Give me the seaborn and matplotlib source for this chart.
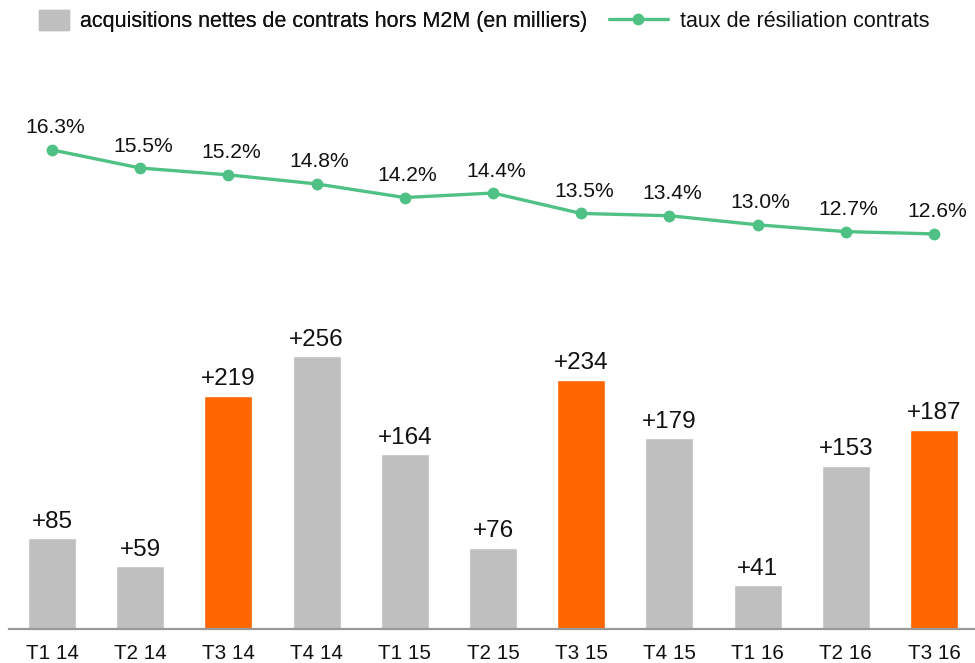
import numpy as np
import seaborn as sns
import matplotlib.pyplot as plt
from matplotlib.patches import Patch
from matplotlib.lines import Line2D

# ===============================
# Données
# ===============================
trimestres = ['T1 14', 'T2 14', 'T3 14', 'T4 14', 'T1 15', 'T2 15',
              'T3 15', 'T4 15', 'T1 16', 'T2 16', 'T3 16']
acquisitions = [85, 59, 219, 256, 164, 76, 234, 179, 41, 153, 187]
resiliation = [16.3, 15.5, 15.2, 14.8, 14.2, 14.4, 13.5, 13.4, 13.0, 12.7, 12.6]
trim_t3 = ['T3 14', 'T3 15', 'T3 16']

label_barres = 'acquisitions nettes de contrats hors M2M (en milliers)'
label_ligne = 'taux de résiliation contrats'

GRIS = '#bfbfbf'
ORANGE = '#ff6600'
VERT = '#50c184'

sns.set_theme(style='white')
plt.rcParams['font.family'] = ['Liberation Sans', 'DejaVu Sans']

fig = plt.figure(figsize=(9.75, 6.63), dpi=100)
ax = fig.add_axes([9 / 975, 34 / 663, 966 / 975, 629 / 663])

couleurs = [ORANGE if t in trim_t3 else GRIS for t in trimestres]
sns.barplot(x=trimestres, y=acquisitions, hue=trimestres, palette=couleurs,
            width=0.544, legend=False, saturation=1, ax=ax)

ax.set_ylim(0, 590)
ax.set_xlim(-0.4875, 10.465)
for s in ['top', 'right', 'left']:
    ax.spines[s].set_visible(False)
ax.spines['bottom'].set_color('#999999')
ax.spines['bottom'].set_linewidth(1.6)
ax.set_yticks([])
ax.tick_params(axis='x', length=0, pad=11, labelsize=14.9, labelcolor='#111111')
ax.set_xlabel('')
ax.set_ylabel('')

for i, v in enumerate(acquisitions):
    ax.annotate(f'+{v}', (i, v), xytext=(0, 4), textcoords='offset points',
                ha='center', va='bottom', fontsize=17.5, color='#111111')

# ===============================
# Taux de résiliation (axe secondaire)
# ===============================
ax2 = ax.twinx()
x_pos = np.arange(len(trimestres))
sns.lineplot(x=x_pos, y=resiliation, color=VERT, linewidth=2.4, marker='o',
             markersize=8.5, markeredgewidth=0, ax=ax2)
ax2.set_ylim(-4.8, 22.9)
ax2.set_xlim(-0.4875, 10.465)
ax2.axis('off')

for i, v in enumerate(resiliation):
    ax2.annotate(f'{v:.1f}%', (i, v), xytext=(2, 9), textcoords='offset points',
                 ha='center', va='bottom', fontsize=15.2, color='#111111')

# ===============================
# Légende
# ===============================
leg1 = fig.legend(handles=[Patch(color=GRIS, label=label_barres)],
                  loc='upper left', bbox_to_anchor=(39 / 975, 1 - 10 / 663),
                  frameon=False, borderpad=0, borderaxespad=0,
                  handlelength=1.4, handleheight=1.07, handletextpad=0.52,
                  fontsize=15.5, labelcolor='#111111')
fig.add_artist(leg1)
fig.legend(handles=[Line2D([], [], color=VERT, linewidth=2.4, marker='o',
                           markersize=8.5, markeredgewidth=0, label=label_ligne)],
           loc='upper left', bbox_to_anchor=(609 / 975, 1 - 10 / 663),
           frameon=False, borderpad=0, borderaxespad=0,
           handlelength=2.74, handleheight=1.07, handletextpad=0.55,
           fontsize=15.5, labelcolor='#111111')

fig.savefig('out.png', dpi=100)
